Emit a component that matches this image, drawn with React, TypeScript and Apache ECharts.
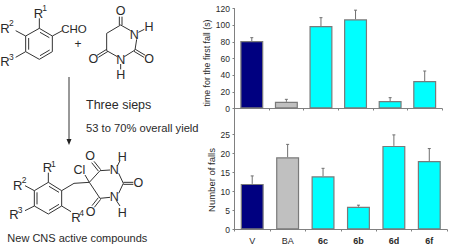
import React, { useEffect, useRef } from "react";
import * as echarts from "echarts";

const categories = ["V", "BA", "6c", "6b", "6d", "6f"];
const barColors = ["#000080", "#c0c0c0", "#00ffff", "#00ffff", "#00ffff", "#00ffff"];
const firstFall = [81, 8, 99, 107, 9, 33];
const firstFallErr = [4, 3, 10, 11, 4, 12];
const falls = [12, 19, 14, 6, 22, 18];
const fallsErr = [2.1, 3.4, 2.1, 0.4, 2.9, 3.3];
const topTicks = [0, 20, 40, 60, 80, 100, 120];
const bottomTicks = [0, 5, 10, 15, 20, 25];

const FONT = "'Liberation Sans', Arial, sans-serif";
const INK = "#2a2a2a";

const seg = (pts: number[][]) =>
  pts.map((p) => ({
    type: "line",
    silent: true,
    shape: { x1: p[0] / 3, y1: p[1] / 3, x2: p[2] / 3, y2: p[3] / 3 },
    style: { stroke: "#333", lineWidth: 1 },
  }));

const label = (t: string, x: number, y: number, size = 11, align = "center") => ({
  type: "text",
  silent: true,
  style: { text: t, x: x / 3, y: y / 3, fill: INK, font: `${size}px ${FONT}`, align, verticalAlign: "middle" },
});

// Chemical structures, in 3x zoom coordinates
const reagentBonds = [
  [118, 85, 157, 108], [157, 108, 157, 155], [157, 155, 118, 178], [118, 178, 77, 155], [77, 155, 77, 108], [77, 108, 118, 85],
  [120, 97, 148, 113], [149, 150, 120, 167], [86, 149, 86, 114],
  [118, 85, 118, 55], [157, 108, 187, 92], [77, 108, 47, 92], [77, 155, 47, 172],
  [362, 75, 392, 92], [410, 118, 405, 150], [405, 150, 373, 170], [352, 170, 320, 152], [320, 152, 320, 100], [320, 100, 362, 75],
  [358, 50, 358, 75], [366, 50, 366, 75], [402, 154, 432, 172], [406, 148, 436, 166], [320, 148, 291, 166], [324, 154, 295, 172],
  [415, 97, 433, 88], [362, 192, 362, 208],
];
const reagentLabels = [
  label("R", 115, 40, 13), label("1", 134, 24, 8.5),
  label("R", 15, 85, 13), label("2", 34, 68, 8.5),
  label("R", 15, 183, 13), label("3", 34, 170, 8.5),
  label("CHO", 222, 86, 11.5),
  label("+", 234, 132, 12),
  label("O", 362, 33, 12.5), label("N", 403, 104, 12.5), label("H", 447, 82, 12.5),
  label("O", 447, 176, 12.5), label("O", 280, 176, 12.5), label("N", 362, 180, 12.5), label("H", 362, 225, 12.5),
];
const productBonds = [
  [145, 547, 185, 572], [185, 572, 185, 618], [185, 618, 145, 642], [145, 642, 103, 618], [103, 618, 103, 572], [103, 572, 145, 547],
  [147, 559, 177, 577], [177, 613, 147, 631], [111, 613, 111, 577],
  [145, 547, 145, 518], [103, 572, 75, 557], [103, 618, 75, 632], [185, 618, 213, 635],
  [185, 572, 222, 550], [222, 550, 268, 547], [268, 547, 255, 525], [268, 547, 300, 512], [268, 547, 300, 595],
  [300, 512, 330, 510], [300, 595, 330, 592], [356, 520, 370, 550], [356, 580, 370, 550],
  [302, 509, 282, 484], [295, 513, 275, 488], [302, 598, 283, 622], [295, 593, 276, 617],
  [370, 547, 400, 547], [370, 553, 400, 553], [352, 498, 360, 482], [350, 603, 360, 618],
];
const productLabels = [
  label("R", 142, 503, 13), label("1", 160, 493, 8.5),
  label("R", 53, 555, 13), label("2", 72, 541, 8.5),
  label("R", 42, 643, 13), label("3", 60, 631, 8.5),
  label("R", 228, 651, 13), label("4", 245, 639, 8.5),
  label("Cl", 238, 510, 12.5), label("O", 270, 468, 12.5), label("N", 343, 510, 12.5), label("H", 367, 470, 12.5),
  label("O", 415, 550, 12.5), label("N", 343, 590, 12.5), label("H", 367, 638, 12.5), label("O", 272, 637, 12.5),
];

const errorSeries = (values: number[], errs: number[], grid: number) => ({
  type: "custom",
  xAxisIndex: grid,
  yAxisIndex: grid,
  silent: true,
  z: 1,
  data: values.map((v, i) => [i, v, v + errs[i]]),
  renderItem: (_: any, api: any) => {
    const a = api.coord([api.value(0), api.value(1)]);
    const b = api.coord([api.value(0), api.value(2)]);
    const st = { stroke: "#707070", lineWidth: 1 };
    return {
      type: "group",
      children: [
        { type: "line", shape: { x1: a[0], y1: a[1], x2: b[0], y2: b[1] }, style: st },
        { type: "line", shape: { x1: b[0] - 1.5, y1: b[1], x2: b[0] + 1.5, y2: b[1] }, style: st },
      ],
    };
  },
});

const barSeries = (values: number[], grid: number) => ({
  type: "bar",
  xAxisIndex: grid,
  yAxisIndex: grid,
  barWidth: 23,
  z: 2,
  data: values.map((v, i) => ({
    value: v,
    itemStyle: { color: barColors[i], borderColor: "#7a7a7a", borderWidth: 1.2 },
  })),
});

const yAxis = (
  gridIndex: number,
  max: number,
  interval: number,
  ticks: number[],
  name: string,
  nameGap: number,
  namePadding: number[],
  nameSize: number,
) => ({
  type: "value",
  gridIndex,
  min: 0,
  max,
  interval,
  name,
  nameLocation: "middle",
  nameGap,
  nameTextStyle: { fontFamily: FONT, fontSize: nameSize, color: INK, padding: namePadding },
  splitLine: { show: false },
  axisLine: { show: true, lineStyle: { color: "#808080" } },
  axisTick: { show: true, length: 2, lineStyle: { color: "#808080" } },
  axisLabel: {
    fontFamily: FONT,
    fontSize: 8.5,
    color: INK,
    margin: 4.5,
    formatter: (v: number) => (ticks.includes(v) ? String(v) : ""),
  },
});

const xAxis = (gridIndex: number, showLabels: boolean) => ({
  type: "category",
  gridIndex,
  data: categories,
  axisLine: { show: true, lineStyle: { color: "#808080" } },
  axisTick: { show: true, length: 2, lineStyle: { color: "#808080" } },
  axisLabel: {
    show: showLabels,
    margin: 7,
    fontFamily: FONT,
    fontSize: 9,
    color: INK,
    fontWeight: "normal",
    rich: { b: { fontWeight: "bold", fontFamily: FONT, fontSize: 9, color: INK } },
    formatter: (v: string) => (v.startsWith("6") ? `{b|${v}}` : v),
  },
});

export default function App() {
  const ref = useRef<HTMLDivElement>(null);
  useEffect(() => {
    const chart = echarts.init(ref.current!, undefined, { renderer: "svg" });
    chart.setOption({
      animation: false,
      backgroundColor: "#ffffff",
      grid: [
        { left: 234.5, right: 8, top: 8.5, height: 100 },
        { left: 234.5, right: 3, top: 134.5, height: 95 },
      ],
      xAxis: [xAxis(0, false), xAxis(1, true)],
      yAxis: [
        yAxis(0, 120, 20, topTicks, "time for the first fall (s)", 13, [0, 9, 0, 0], 8.8),
        yAxis(1, 25, 5, bottomTicks, "Number of falls", 8, [0, 0, 0, 4], 9.5),
      ],
      series: [
        errorSeries(firstFall, firstFallErr, 0),
        barSeries(firstFall, 0),
        errorSeries(falls, fallsErr, 1),
        barSeries(falls, 1),
      ],
      graphic: [
        { type: "line", silent: true, shape: { x1: 234.5, y1: 108, x2: 234.5, y2: 135 }, style: { stroke: "#808080", lineWidth: 1 } },
        ...seg(reagentBonds),
        ...reagentLabels,
        ...seg(productBonds),
        ...productLabels,
        { type: "line", silent: true, shape: { x1: 69, y1: 77, x2: 69, y2: 139 }, style: { stroke: "#333", lineWidth: 1 } },
        { type: "polygon", silent: true, shape: { points: [[66.5, 139], [71.5, 139], [69, 145]] }, style: { fill: "#222" } },
        label("Three sieps", 258, 315, 12.5, "left"),
        label("53 to 70% overall yield", 258, 384, 11.2, "left"),
        label("New CNS active compounds", 22, 714, 11, "left"),
      ],
    });
    return () => chart.dispose();
  }, []);
  return <div ref={ref} style={{ position: "fixed", left: 0, top: 0, width: 450, height: 246 }} />;
}
